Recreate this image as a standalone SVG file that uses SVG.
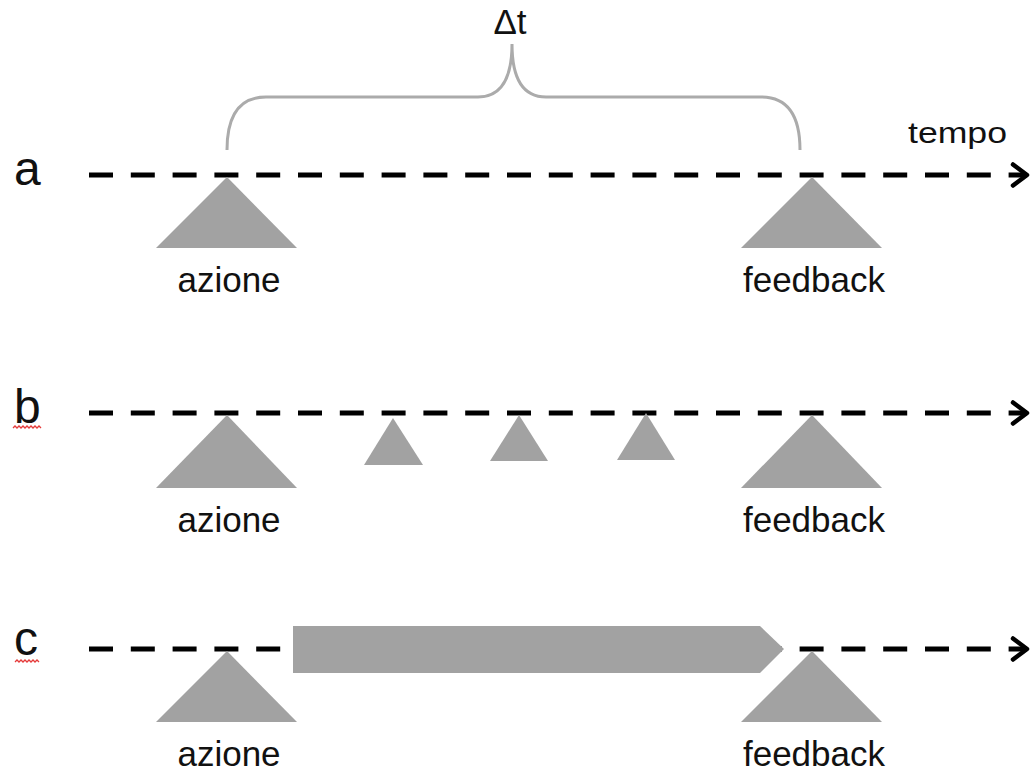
<svg xmlns="http://www.w3.org/2000/svg" width="1032" height="772" viewBox="0 0 1032 772">
  <style>
    .axis { stroke: #000; stroke-width: 5; stroke-dasharray: 24 17.8; fill: none; }
    .tri { fill: #a2a2a2; }
    .lbl { font-family: "Liberation Sans", Arial, sans-serif; font-size: 35px; fill: #111; text-anchor: middle; }
    .row { font-family: "Liberation Sans", Arial, sans-serif; font-size: 48px; fill: #111; }
    .squig { stroke: #e53a3a; stroke-width: 1.3; fill: none; }
    .brace { stroke: #ababab; stroke-width: 3; fill: none; }
  </style>
  <defs>
    <marker id="chev" markerUnits="userSpaceOnUse" markerWidth="24" markerHeight="30" refX="17" refY="13" orient="auto">
      <path d="M3,2.5 L17,13 L3,23.5" stroke="#000" stroke-width="4.5" fill="none" stroke-linecap="round" stroke-linejoin="round"/>
    </marker>
  </defs>
  <rect width="1032" height="772" fill="#fff"/>

  <g id="connectors">
    <line class="axis" x1="89" y1="175" x2="1027" y2="175" marker-end="url(#chev)"/>
    <line class="axis" x1="89" y1="413" x2="1027" y2="413" marker-end="url(#chev)"/>
    <line class="axis" x1="89" y1="649" x2="1027" y2="649" marker-end="url(#chev)"/>
    <path class="brace" d="M227,150 C227,115 240,97 266,97 L478,97 C500,97 512,80 512,44 C512,80 524,97 546,97 L761,97 C787,97 800,115 800,150"/>
  </g>

  <g id="delta-t">
    <text class="lbl" x="510" y="34" font-size="34">Δt</text>
  </g>
  <g id="tempo">
    <text x="908" y="143" font-family="Liberation Sans, Arial, sans-serif" font-size="30" fill="#111" textLength="99" lengthAdjust="spacingAndGlyphs">tempo</text>
  </g>

  <g id="row-a">
    <text class="row" x="14" y="185">a</text>
    <g id="a-azione">
      <polygon class="tri" points="227,177 156,248 297,248"/>
      <text class="lbl" x="229" y="292">azione</text>
    </g>
    <g id="a-feedback">
      <polygon class="tri" points="812,177 741,248 882,248"/>
      <text class="lbl" x="814" y="292">feedback</text>
    </g>
  </g>

  <g id="row-b">
    <text class="row" x="14" y="423">b</text>
    <path class="squig" d="M13,428 l2,-2 l2,2 l2,-2 l2,2 l2,-2 l2,2 l2,-2 l2,2 l2,-2 l2,2 l2,-2 l2,2 l2,-2 l2,2"/>
    <g id="b-azione">
      <polygon class="tri" points="227,415 156,488 297,488"/>
      <text class="lbl" x="229" y="532">azione</text>
    </g>
    <g id="b-step1"><polygon class="tri" points="393,418 364,465 423,465"/></g>
    <g id="b-step2"><polygon class="tri" points="519,415 490,461 548,461"/></g>
    <g id="b-step3"><polygon class="tri" points="646,413 617,460 675,460"/></g>
    <g id="b-feedback">
      <polygon class="tri" points="812,415 741,488 882,488"/>
      <text class="lbl" x="814" y="532">feedback</text>
    </g>
  </g>

  <g id="row-c">
    <text class="row" x="14" y="655">c</text>
    <path class="squig" d="M15,662 l2,-2 l2,2 l2,-2 l2,2 l2,-2 l2,2 l2,-2 l2,2 l2,-2 l2,2 l2,-2 l2,2"/>
    <g id="c-azione">
      <polygon class="tri" points="227,651 156,722 297,722"/>
      <text class="lbl" x="229" y="766">azione</text>
    </g>
    <g id="c-bar">
      <polygon class="tri" points="293,626 760,626 784,649 760,673 293,673"/>
    </g>
    <g id="c-feedback">
      <polygon class="tri" points="812,651 741,722 882,722"/>
      <text class="lbl" x="814" y="766">feedback</text>
    </g>
  </g>
</svg>
